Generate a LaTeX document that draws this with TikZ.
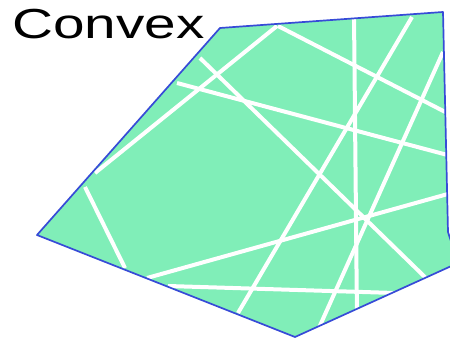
\documentclass[tikz,border=0pt]{standalone}
\usepackage{fontspec}
\setmainfont{Liberation Sans}
\definecolor{hullgreen}{RGB}{128,238,184}
\definecolor{hullblue}{RGB}{55,75,215}

\begin{document}
\begin{tikzpicture}[x=1pt, y=-1pt]
  \useasboundingbox (0,0) rectangle (450,340);
  \node[anchor=base west, inner sep=0pt, font=\fontsize{42}{42}\selectfont] (title) at (12,38) {\scalebox{1.35}[1]{Convex}};
  \def\hull{(220,28) -- (443,12) -- (448,232) -- (458,263) -- (295,337) -- (37,235) -- cycle}
  \fill[hullgreen] \hull;
  \begin{scope}
    \clip \hull;
    \foreach \xa/\ya/\xb/\yb in {85/187/125/268, 147/278/455/192, 168/286/395/293,
                                 412/17/238/313, 354/15/357/320, 278/26/455/117,
                                 177/83/455/157, 200/58/430/282, 95/173/277/26,
                                 443/52/318/330}
      \draw[white, line width=4pt] (\xa,\ya) -- (\xb,\yb);
  \end{scope}
  \draw[hullblue, line width=1.7pt, line join=round] \hull;
\end{tikzpicture}
\end{document}
